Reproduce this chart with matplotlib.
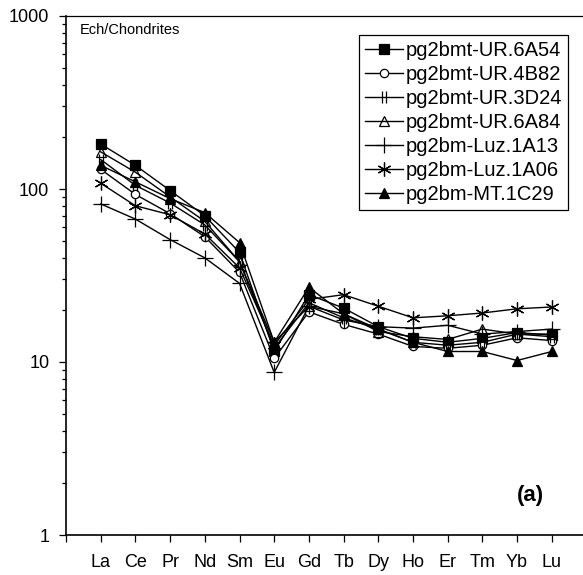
import matplotlib
matplotlib.use("Agg")
import matplotlib.pyplot as plt
from matplotlib.path import Path
from matplotlib.ticker import LogLocator, NullFormatter, FixedLocator

plt.rcParams['font.family'] = ['Liberation Sans', 'DejaVu Sans']

elements = ["La", "Ce", "Pr", "Nd", "Sm", "Eu", "Gd", "Tb", "Dy", "Ho", "Er", "Tm", "Yb", "Lu"]

ur_6a54 = [182, 137, 98, 70, 43, 11.5, 24.5, 20.5, 16, 13.7, 13, 13.7, 14.8, 14.3]
ur_4b82 = [130, 93, 72, 53, 33, 10.5, 19.5, 16.5, 14.5, 12.3, 12, 12.5, 13.8, 13.3]
ur_3d24 = [148, 105, 83, 62, 38, 12, 22, 18, 15.5, 13, 12.5, 13, 14.5, 14]
ur_6a84 = [164, 125, 90, 65, 38, 13, 21, 19, 15, 14, 13.5, 15.5, 14.5, 14.5]
luz_1a13 = [82, 67, 51, 40, 28.5, 8.7, 21, 17.5, 16, 15.7, 16.3, 14.5, 15, 15.5]
luz_1a06 = [108, 80, 71, 55, 35, 12.5, 23, 24.5, 21, 18, 18.5, 19.2, 20.3, 20.8]
mt_1c29 = [137, 110, 88, 73, 49, 13, 27, 19, 15.5, 13, 11.5, 11.5, 10.2, 11.5]

# two vertical bars marker (Excel style "||")
bars = Path([(-0.35, -1), (-0.35, 1), (0.35, -1), (0.35, 1)],
            [Path.MOVETO, Path.LINETO, Path.MOVETO, Path.LINETO])

series = [
    ("pg2bmt-UR.6A54", ur_6a54, dict(marker='s', ms=7, mfc='black')),
    ("pg2bmt-UR.4B82", ur_4b82, dict(marker='o', ms=6, mfc='white')),
    ("pg2bmt-UR.3D24", ur_3d24, dict(marker=bars, ms=8, mfc='none')),
    ("pg2bmt-UR.6A84", ur_6a84, dict(marker='^', ms=7, mfc='none')),
    ("pg2bm-Luz.1A13", luz_1a13, dict(marker='+', ms=11)),
    ("pg2bm-Luz.1A06", luz_1a06, dict(marker=(6, 2, 0), ms=10)),
    ("pg2bm-MT.1C29", mt_1c29, dict(marker='^', ms=7, mfc='black')),
]

fig = plt.figure(figsize=(5.83, 5.75), dpi=100)
ax = fig.add_axes([66 / 583, 40 / 575, 520.5 / 583, 519 / 575])

x = list(range(1, len(elements) + 1))
for name, vals, st in series:
    ax.plot(x, vals, color='black', lw=1.0, mec='black', mew=0.9, label=name, **st)

ax.set_yscale('log')
ax.set_ylim(1, 1000)
ax.set_xlim(0, 15)
ax.set_yticks([1, 10, 100, 1000])
ax.set_yticklabels(["1", "10", "100", "1000"])
ax.yaxis.set_minor_locator(LogLocator(base=10, subs=range(2, 10)))
ax.yaxis.set_minor_formatter(NullFormatter())

ax.set_xticks(x)
ax.set_xticklabels(elements)
ax.xaxis.set_minor_locator(FixedLocator([0]))

ax.tick_params(axis='both', which='major', direction='out', length=5, width=0.9, labelsize=13)
ax.tick_params(axis='y', which='major', pad=7)
ax.tick_params(axis='y', which='minor', direction='out', length=3, width=0.9)
ax.tick_params(axis='x', which='minor', direction='out', length=5, width=0.9)
ax.tick_params(axis='x', which='major', pad=9)

for sp in ax.spines.values():
    sp.set_linewidth(1.2)
ax.spines['top'].set_linewidth(0.9)

ax.text(80 / 583, 1 - 30 / 575, "Ech/Chondrites", transform=fig.transFigure,
        fontsize=10.5, va='center', ha='left')
ax.text(530 / 583, 1 - 495 / 575, "(a)", transform=fig.transFigure,
        fontsize=16, fontweight='bold', va='center', ha='center')

leg = ax.legend(loc='upper right', bbox_to_anchor=(568 / 583, 1 - 35 / 575),
                bbox_transform=fig.transFigure, borderaxespad=0, fontsize=14.5,
                frameon=True, fancybox=False, edgecolor='black', framealpha=1,
                handlelength=1.9, handletextpad=0.12, labelspacing=0.25, borderpad=0.3)
leg.get_frame().set_linewidth(0.9)

fig.savefig("out.png", dpi=100)
